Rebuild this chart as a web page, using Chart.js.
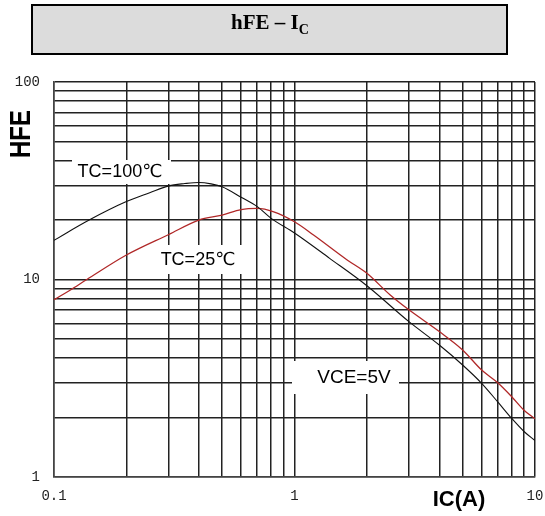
<!DOCTYPE html>
<html>
<head>
<meta charset="utf-8">
<script src="https://cdn.jsdelivr.net/npm/chart.js@4.4.1/dist/chart.umd.min.js"></script>
<style>
  html, body { margin: 0; padding: 0; background: #fff; }
  #wrap { position: relative; width: 545px; height: 516px; }
</style>
</head>
<body>
<div id="wrap"><canvas id="hfeChart"></canvas></div>
<script>
// collector current (A) and hFE
const ic100 = [0.1, 0.14, 0.2, 0.25, 0.3, 0.35, 0.4, 0.45, 0.5, 0.6, 0.7, 0.8, 1.0, 1.4, 2, 3, 4, 5, 6, 7, 8, 9, 10];
const hfe100 = [15.8, 20.0, 24.8, 27.5, 29.8, 30.6, 31.0, 30.5, 29.5, 26.1, 23.4, 20.4, 17.2, 12.8, 9.3, 6.1, 4.66, 3.69, 2.98, 2.40, 1.98, 1.70, 1.53];

const ic25 = [0.1, 0.117, 0.137, 0.2, 0.3, 0.4, 0.5, 0.6, 0.7, 0.82, 1.0, 1.2, 1.65, 2, 2.5, 3, 4, 5, 6, 7, 8, 9, 10];
const hfe25 = [7.9, 8.85, 10.0, 13.3, 16.9, 20.0, 21.2, 22.6, 22.9, 22.0, 19.6, 16.8, 12.6, 10.75, 8.35, 7.0, 5.45, 4.4, 3.48, 3.0, 2.55, 2.18, 1.97];

// grid lines and labelled ticks
const xGrid = [0.1, 0.2, 0.3, 0.4, 0.5, 0.6, 0.7, 0.8, 0.9, 1, 2, 3, 4, 5, 6, 7, 8, 9, 10];
const xLabels = [0.1, 1, 10];
const yGrid = [1, 2, 3, 4, 5, 6, 7, 8, 9, 10, 20, 30, 40, 50, 60, 70, 80, 90, 100];
const yLabels = [1, 10, 100];

const curveNames = ['TC=100℃', 'TC=25℃'];
const noteText = 'VCE=5V';

function toPoints(xs, ys) {
    return xs.map((x, i) => ({ x: x, y: ys[i] }));
}

// title box, axis titles and the in-plot labels
const decorations = {
    id: 'decorations',
    beforeDatasetsDraw(chart) {
        const ctx = chart.ctx;
        ctx.save();
        ctx.fillStyle = '#fff';
        ctx.fillRect(72, 160, 99, 24);
        ctx.fillRect(158, 245, 90, 29);
        ctx.fillRect(292, 361, 107, 33);
        ctx.restore();
    },
    afterDraw(chart) {
        const ctx = chart.ctx;
        ctx.save();

        // title box
        ctx.fillStyle = '#dcdcdc';
        ctx.fillRect(32, 5, 475, 49);
        ctx.strokeStyle = '#000';
        ctx.lineWidth = 2;
        ctx.strokeRect(32, 5, 475, 49);

        ctx.fillStyle = '#000';
        ctx.textBaseline = 'alphabetic';
        const main = 'hFE – I';
        ctx.font = 'bold 14px "Liberation Serif", serif';
        const subW = ctx.measureText('C').width;
        ctx.font = 'bold 21px "Liberation Serif", serif';
        const mainW = ctx.measureText(main).width;
        const startX = 270 - (mainW + subW) / 2;
        ctx.textAlign = 'left';
        ctx.fillText(main, startX, 29);
        ctx.font = 'bold 14px "Liberation Serif", serif';
        ctx.fillText('C', startX + mainW, 34);

        // y axis title
        ctx.save();
        ctx.translate(21, 134);
        ctx.rotate(-Math.PI / 2);
        ctx.scale(0.8, 1);
        ctx.font = 'bold 30px "Liberation Sans", Arial, sans-serif';
        ctx.textAlign = 'center';
        ctx.textBaseline = 'middle';
        ctx.fillText('HFE', 0, 1);
        ctx.restore();

        // x axis title
        ctx.font = 'bold 22px "Liberation Sans", Arial, sans-serif';
        ctx.textAlign = 'center';
        ctx.textBaseline = 'middle';
        ctx.fillText('IC(A)', 459, 500);

        // curve labels
        ctx.font = '18px "Liberation Sans", Arial, "DejaVu Sans", sans-serif';
        ctx.fillText(curveNames[0], 120, 172);
        ctx.fillText(curveNames[1], 198, 260);
        ctx.font = '19px "Liberation Sans", Arial, sans-serif';
        ctx.fillText(noteText, 354, 378);

        ctx.restore();
    }
};

const ctx = document.getElementById('hfeChart').getContext('2d');
new Chart(ctx, {
    type: 'line',
    data: {
        datasets: [{
            label: curveNames[0],
            data: toPoints(ic100, hfe100),
            borderColor: '#111',
            borderWidth: 1.1,
            pointRadius: 0,
            cubicInterpolationMode: 'monotone'
        }, {
            label: curveNames[1],
            data: toPoints(ic25, hfe25),
            borderColor: '#b02828',
            borderWidth: 1.3,
            pointRadius: 0,
            cubicInterpolationMode: 'monotone'
        }]
    },
    options: {
        responsive: true,
        maintainAspectRatio: false,
        animation: false,
        layout: { padding: { top: 82, right: 0, left: 0, bottom: 0 } },
        plugins: {
            legend: { display: false },
            tooltip: { enabled: false }
        },
        scales: {
            x: {
                type: 'logarithmic',
                min: 0.1,
                max: 10,
                afterBuildTicks: (scale) => { scale.ticks = xGrid.map(v => ({ value: v })); },
                afterFit: (scale) => {
                    scale.height = 39;
                    scale.paddingLeft = 0;
                    scale.paddingRight = 10;
                },
                grid: { color: '#222', lineWidth: 1.5, drawTicks: false },
                border: { color: '#444', width: 1.5 },
                ticks: {
                    autoSkip: false,
                    maxRotation: 0,
                    padding: 11,
                    color: '#222',
                    font: { family: '"Liberation Mono", monospace', size: 14 },
                    callback: (value) => xLabels.includes(value) ? String(value) : ''
                }
            },
            y: {
                type: 'logarithmic',
                min: 1,
                max: 100,
                afterBuildTicks: (scale) => { scale.ticks = yGrid.map(v => ({ value: v })); },
                afterFit: (scale) => { scale.width = 54; },
                grid: { color: '#222', lineWidth: 1.5, drawTicks: false },
                border: { color: '#444', width: 1.5 },
                ticks: {
                    autoSkip: false,
                    padding: 14,
                    color: '#222',
                    font: { family: '"Liberation Mono", monospace', size: 14 },
                    callback: (value) => yLabels.includes(value) ? String(value) : ''
                }
            }
        }
    },
    plugins: [decorations]
});
</script>
</body>
</html>
